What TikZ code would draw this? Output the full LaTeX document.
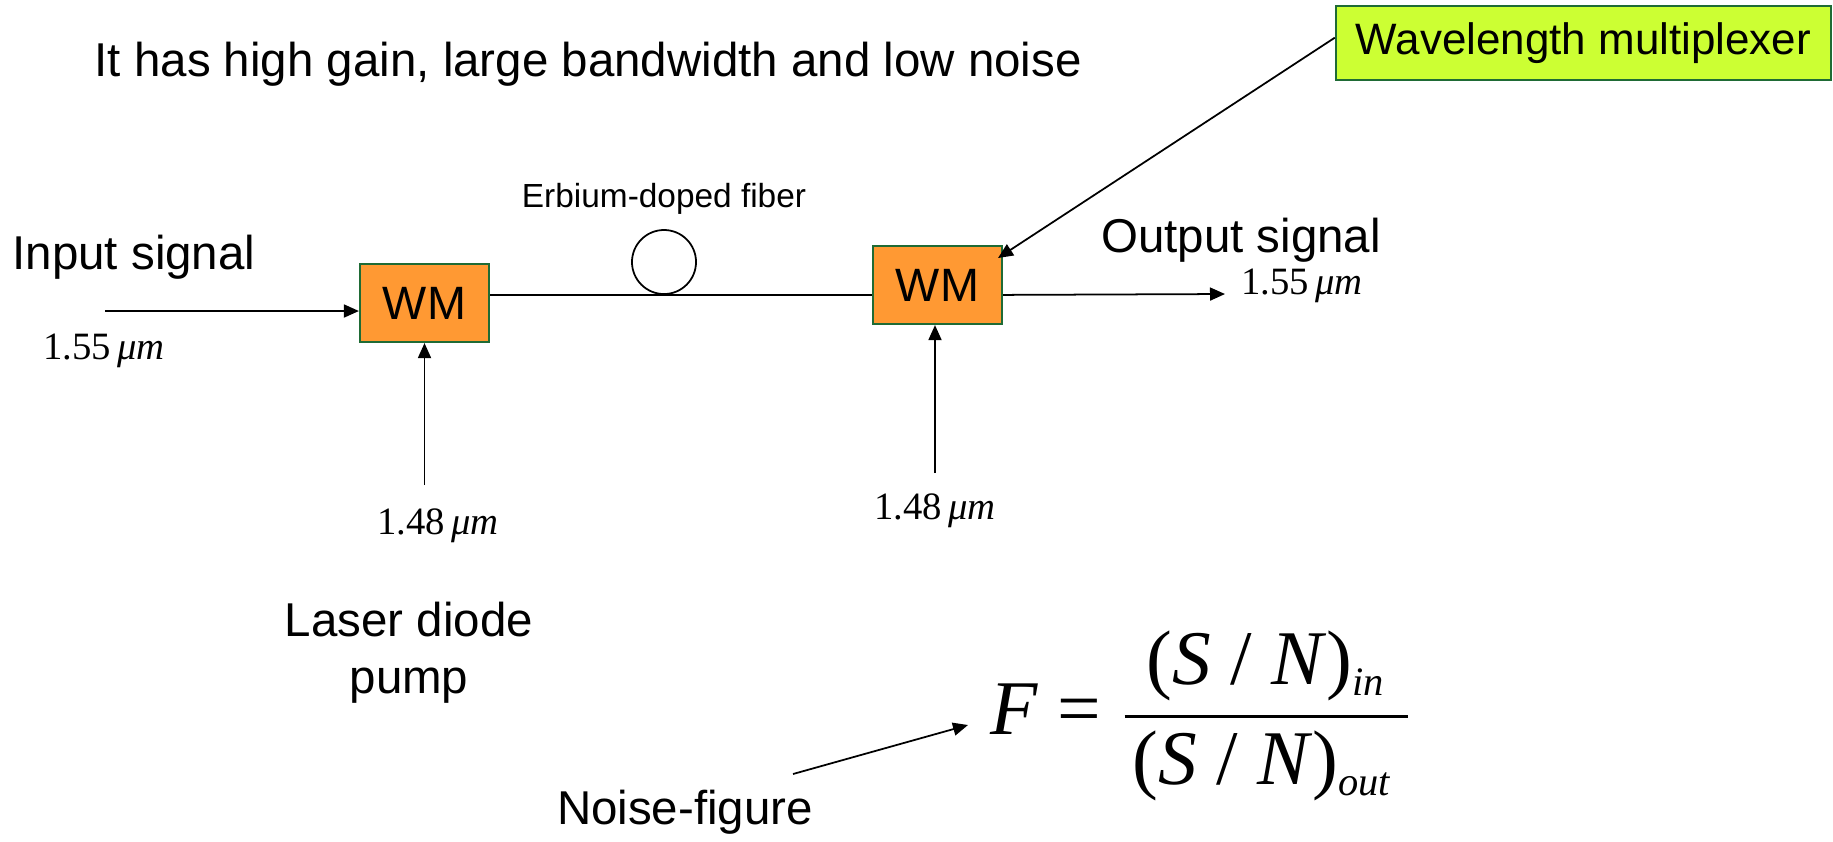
\documentclass[tikz,border=0pt]{standalone}
\usepackage{amsmath}
\usepackage{fontspec}
\setmainfont{Liberation Sans}
\newfontfamily\timesfont{Liberation Serif}
\usepackage{xcolor}
\usetikzlibrary{positioning, arrows.meta, calc}

\definecolor{wmorange}{HTML}{FF9933}
\definecolor{wmlime}{HTML}{CCFF33}
\definecolor{boxedge}{HTML}{1F6B35}

\newcommand{\snratio}[1]{\mbox{(\textit{S} / \textit{N})$_{\mbox{\fontsize{11.5}{12}\selectfont\textit{#1}}}$}}

\begin{document}
\begin{tikzpicture}[
    x=0.01cm, y=-0.01cm,
    >={Triangle[length=0.15cm, width=0.13cm]},
    font=\fontsize{13.5}{16.2}\selectfont,
    wmbox/.style={
        rectangle, draw=boxedge, fill=wmorange, line width=0.6pt,
        minimum width=1.29cm, minimum height=0.78cm, inner sep=0pt,
        font=\fontsize{13.3}{16}\selectfont
    },
    calloutbox/.style={
        rectangle, draw=boxedge, fill=wmlime, line width=0.6pt,
        minimum width=4.95cm, minimum height=0.74cm, inner sep=0pt,
        font=\fontsize{12.5}{15}\selectfont
    },
    fiberloop/.style={circle, draw, line width=0.5pt, minimum size=0.64cm, inner sep=0pt},
    arrstyle/.style={->, line width=0.5pt},
    linestyle/.style={line width=0.5pt},
    wavelab/.style={font=\timesfont\fontsize{11}{13}\selectfont, inner sep=0pt},
]
\useasboundingbox (0,0) rectangle (1833,841);

% ---- Heading and callout ----
\node[anchor=west, inner sep=0pt] (title) at (94,64) {It has high gain, large bandwidth and low noise};
\node[calloutbox] (wl) at (1583.5,43) {Wavelength multiplexer};

% ---- Multiplexers and fiber ----
\node[wmbox] (wm1) at (424.5,303) {WM};
\node[wmbox] (wm2) at (937.5,285) {WM};
\node[fiberloop] (loop) at (664,262) {};
\node[font=\fontsize{9.5}{11}\selectfont] (erbium) at (664,199) {Erbium-doped fiber};

% ---- Signal labels ----
\node (insig) at (134,257) {Input signal};
\node[wavelab] (inlam) at (104,351) {1.55\,\textit{μm}};
\node (outsig) at (1241,240) {Output signal};
\node[wavelab] (outlam) at (1302,286) {1.55\,\textit{μm}};

% ---- Pump labels ----
\node[wavelab] (pumplam1) at (438,526) {1.48\,\textit{μm}};
\node[wavelab] (pumplam2) at (935,511) {1.48\,\textit{μm}};
\node[align=center] (laser) at (409,653) {Laser diode\\pump};

% ---- Noise figure ----
\node (nf) at (685,812) {Noise-figure};
\node (formula) at (1201,716)
    {\timesfont\fontsize{22}{26}\selectfont\textit{F} = $\dfrac{\snratio{in}}{\kern0.08cm\snratio{out}\kern0.15cm}$};

% ---- Free ends ----
\coordinate (insrc) at (105,311);
\coordinate (outend) at (1225,294);
\coordinate (pump1) at (424.5,485);
\coordinate (pump2) at (935,473);
\coordinate (wltip) at (998,258);
\coordinate (nftail) at (793,774);
\coordinate (nfhead) at (968,725);

% ---- Connectors ----
\draw[arrstyle] (insrc) -- (insrc -| wm1.west);
\draw[linestyle] (wm1.east |- loop.south) -- (wm2.west |- loop.south);
\draw[arrstyle] (wm2.east |- loop.south) -- (outend);
\draw[arrstyle] (pump1) -- (pump1 |- wm1.south);
\draw[arrstyle] (pump2) -- (pump2 |- wm2.south);
\draw[arrstyle] ($(wl.north west)!0.43!(wl.south west)$) -- (wltip);
\draw[arrstyle] (nftail) -- (nfhead);

\end{tikzpicture}
\end{document}
